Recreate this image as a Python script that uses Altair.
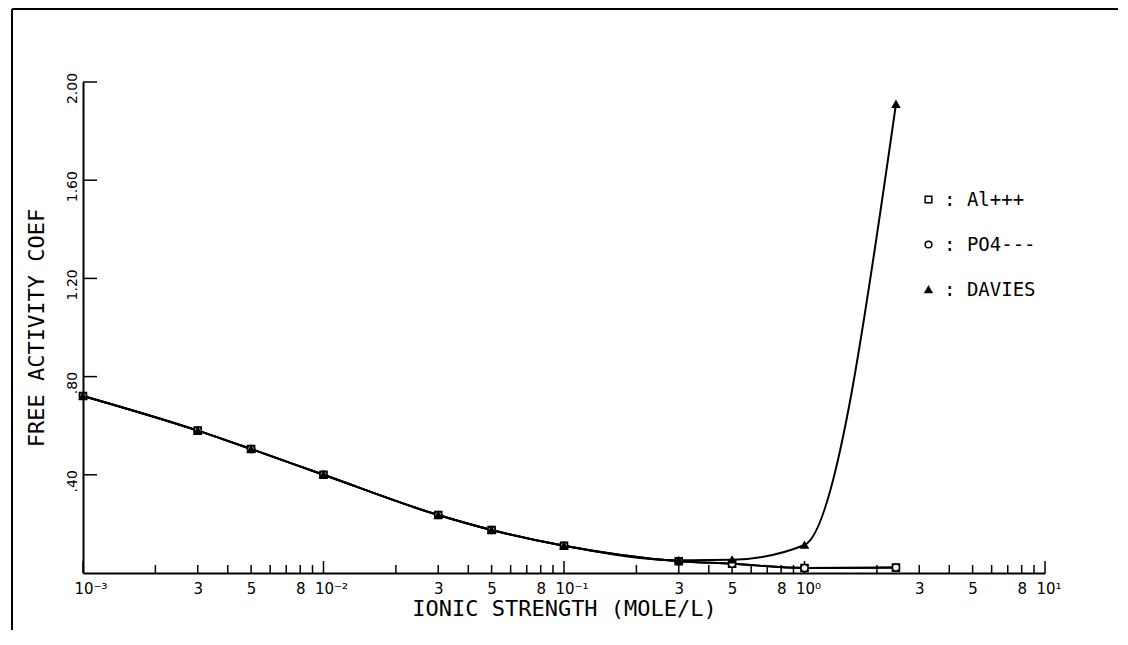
import altair as alt
import pandas as pd

# ---- data ----
ionic = [0.001, 0.003, 0.005, 0.01, 0.03, 0.05, 0.1, 0.3, 0.5, 1.0, 2.4]
al = [0.721, 0.580, 0.505, 0.400, 0.236, 0.175, 0.111, 0.048, 0.038, 0.020, 0.022]
po4 = [0.721, 0.580, 0.505, 0.400, 0.236, 0.175, 0.111, 0.048, 0.038, 0.020, 0.022]
davies = [0.721, 0.580, 0.505, 0.400, 0.236, 0.175, 0.111, 0.052, 0.054, 0.114, 1.91]
series_names = ["Al+++", "PO4---", "DAVIES"]
series_shapes = ["square", "circle", "triangle-up"]
series_fills = ["white", "white", "black"]

x_label_values = [0.001, 0.003, 0.005, 0.008, 0.01, 0.03, 0.05, 0.08, 0.1,
                  0.3, 0.5, 0.8, 1.0, 3.0, 5.0, 8.0, 10.0]
x_label_texts = ["10⁻³", "3", "5", "8", "10⁻²", "3", "5", "8", "10⁻¹",
                 "3", "5", "8", "10⁰", "3", "5", "8", "10¹"]
decades = [0.001, 0.01, 0.1, 1.0, 10.0]
mantissas = [2, 3, 4, 5, 6, 7, 8, 9]
minor_ticks = [m * d for d in decades[:-1] for m in mantissas]
y_tick_values = [0.4, 0.8, 1.2, 1.6, 2.0]
y_tick_texts = [".40", ".80", "1.20", "1.60", "2.00"]

FONT = "DejaVu Sans"
MONO = "DejaVu Sans Mono"
W, H = 962, 491

rows = []
for name, vals in zip(series_names, [al, po4, davies]):
    for i, v in zip(ionic, vals):
        rows.append({"I": i, "coef": v, "series": name})
df = pd.DataFrame(rows)

xscale = alt.Scale(type="log", domain=[0.001, 10], nice=False)
yscale = alt.Scale(domain=[0, 2], nice=False, zero=False)

x_expr = "".join(f"datum.value == {v} ? '{t}' : " for v, t in zip(x_label_values, x_label_texts)) + "''"
y_expr = "".join(f"abs(datum.value - {v}) < 0.001 ? '{t}' : " for v, t in zip(y_tick_values, y_tick_texts)) + "''"
decade_test = " || ".join(f"datum.value == {d}" for d in decades)

x_axis = alt.Axis(values=x_label_values, labelExpr=x_expr, ticks=False, grid=False,
                  domainColor="black", domainWidth=2, labelFont=FONT, labelFontSize=15,
                  labelColor="black", labelPadding=8, labelFlush=False, labelOverlap=False,
                  labelAlign={"condition": {"test": decade_test, "value": "left"}, "value": "center"},
                  labelOffset={"condition": {"test": decade_test, "value": -9}, "value": 0},
                  title="IONIC STRENGTH (MOLE/L)", titleFont=MONO, titleFontSize=22,
                  titleFontWeight="normal", titleColor="black", titlePadding=2)
y_axis = alt.Axis(values=y_tick_values, labelExpr=y_expr, ticks=False, grid=False,
                  domainColor="black", domainWidth=2, labelFont=FONT, labelFontSize=14,
                  labelColor="black", labelAngle=270, labelAlign="center", labelBaseline="bottom",
                  labelPadding=4, labelOffset=6, labelFlush=False, labelOverlap=False,
                  title="FREE ACTIVITY COEF", titleFont=MONO, titleFontSize=22,
                  titleFontWeight="normal", titleColor="black", titlePadding=17)

legend = alt.Legend(orient="none", legendX=836, legendY=108, title=None,
                    labelExpr="': ' + datum.label", labelFont=MONO, labelFontSize=19,
                    labelColor="black", symbolStrokeWidth=1.5, symbolStrokeColor="black",
                    symbolSize=45, rowPadding=25, labelOffset=6, padding=0)

base = alt.Chart(df)
lines = base.mark_line(interpolate="monotone", color="black", strokeWidth=2).encode(
    x=alt.X("I:Q", scale=xscale, axis=x_axis),
    y=alt.Y("coef:Q", scale=yscale, axis=y_axis),
    detail="series:N",
)
points = base.mark_point(size=50, strokeWidth=1.5, opacity=1).encode(
    x=alt.X("I:Q", scale=xscale),
    y=alt.Y("coef:Q", scale=yscale),
    shape=alt.Shape("series:N", scale=alt.Scale(domain=series_names, range=series_shapes), legend=legend),
    fill=alt.Fill("series:N", scale=alt.Scale(domain=series_names, range=series_fills), legend=legend),
    stroke=alt.Stroke("series:N", scale=alt.Scale(domain=series_names, range=["black", "black", "black"]), legend=legend),
)

minor_df = pd.DataFrame({"I": minor_ticks})
major_df = pd.DataFrame({"I": decades})
ytick_df = pd.DataFrame({"coef": y_tick_values})

minor_rules = alt.Chart(minor_df).mark_rule(color="black", strokeWidth=1.5).encode(
    x=alt.X("I:Q", scale=xscale), y=alt.value(H), y2=alt.value(H - 8))
major_rules = alt.Chart(major_df).mark_rule(color="black", strokeWidth=1.5).encode(
    x=alt.X("I:Q", scale=xscale), y=alt.value(H), y2=alt.value(H - 12))
y_rules = alt.Chart(ytick_df).mark_rule(color="black", strokeWidth=1.5).encode(
    y=alt.Y("coef:Q", scale=yscale), x=alt.value(0), x2=alt.value(14))

frame_df = pd.DataFrame({"f": [0]})
frame_top = alt.Chart(frame_df).mark_rule(color="black", strokeWidth=2).encode(
    x=alt.value(-71), x2=alt.value(1035), y=alt.value(-73))
frame_left = alt.Chart(frame_df).mark_rule(color="black", strokeWidth=2).encode(
    x=alt.value(-71), y=alt.value(-73), y2=alt.value(548))

chart = alt.layer(lines, minor_rules, major_rules, y_rules, points, frame_top, frame_left).properties(
    width=W, height=H,
    autosize=alt.AutoSizeParams(type="none"),
    padding={"left": 75, "top": 74, "right": 75, "bottom": 59},
    background="white",
).configure_view(stroke=None)

chart.save("out.html", embed_options={"renderer": "svg", "actions": False})
